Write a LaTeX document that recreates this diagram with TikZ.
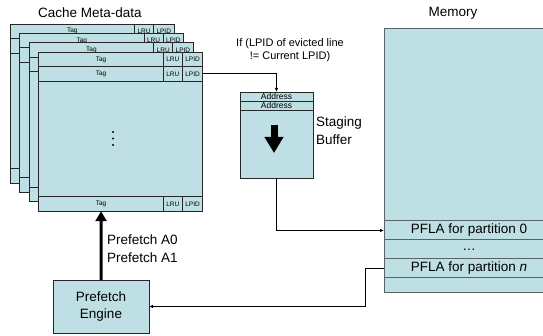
\documentclass[tikz,border=0pt]{standalone}
\usepackage{fontspec}
\setmainfont{Liberation Sans}
\usetikzlibrary{positioning,arrows.meta}
\definecolor{CacheBlue}{RGB}{190,224,228}
\definecolor{EdgeGray}{RGB}{90,98,100}

\begin{document}
\begin{tikzpicture}[x=1pt,y=-1pt]
	\tikzset{
		cell/.style={draw=black!85, line width=0.8pt, fill=CacheBlue, inner sep=0pt, outer sep=0pt,
			anchor=north west, minimum height=14.5pt, font=\fontsize{6.5}{7}\selectfont},
		mrow/.style={draw=EdgeGray, line width=1pt, fill=CacheBlue, inner sep=0pt, outer sep=0pt,
			anchor=north west, minimum width=170pt, font=\fontsize{13.5}{16}\selectfont},
		lbl/.style={font=\fontsize{13.5}{18}\selectfont, align=left, inner sep=0pt},
		conn/.style={draw=black, line width=1pt, -{Latex[length=4pt,width=3.5pt]}}
	}
	\useasboundingbox (0,0) rectangle (543,336);
	
	% stacked meta-data arrays, back to front
	\foreach \i in {0,...,3}{
		\begin{scope}[shift={(9.6*\i,9.4*\i)}]
			\node[cell, minimum width=164pt, minimum height=159pt] (card\i) at (10,24) {};
			\node[cell, minimum width=124.5pt] (tagA\i) at (10,24) {Tag};
			\node[cell, minimum width=19pt] (lruA\i) at (tagA\i.north east) {LRU};
			\node[cell, minimum width=20.5pt] (lpidA\i) at (lruA\i.north east) {LPID};
			\node[cell, minimum width=124.5pt] (tagB\i) at (tagA\i.south west) {Tag};
			\node[cell, minimum width=19pt] (lruB\i) at (tagB\i.north east) {LRU};
			\node[cell, minimum width=20.5pt] (lpidB\i) at (lruB\i.north east) {LPID};
			\node[cell, minimum width=124.5pt] (tagC\i) at (10,168.5) {Tag};
			\node[cell, minimum width=19pt] (lruC\i) at (tagC\i.north east) {LRU};
			\node[cell, minimum width=20.5pt] (lpidC\i) at (lruC\i.north east) {LPID};
		\end{scope}
	}
	% vertical ellipsis
	\foreach \y in {132,138.5,145}
		\fill (113,\y) circle (1.1pt);
	\node[lbl] (cachetitle) at (90,13) {Cache Meta-data};
	
	% staging buffer
	\node[cell, minimum width=73pt, minimum height=9pt, font=\fontsize{8.5}{9}\selectfont] (addr1) at (240,92) {Address};
	\node[cell, minimum width=73pt, minimum height=9pt, font=\fontsize{8.5}{9}\selectfont] (addr2) at (addr1.south west) {Address};
	\node[cell, minimum width=73pt, minimum height=68pt] (stage) at (addr2.south west) {};
	\draw[line width=7pt, -{Triangle[length=16pt,width=18pt]}] (274,125) -- (274,153);
	\node[lbl, anchor=west] (stagelabel) at (316,131) {Staging\\Buffer};
	\node[font=\fontsize{11}{13}\selectfont, align=center, inner sep=0pt] (evictlabel) at (290,50)
		{If (LPID of evicted line\\!= Current LPID)};
	
	% memory
	\node[lbl] (memtitle) at (453,13) {Memory};
	\node[mrow, minimum height=192pt] (membody) at (384,29) {};
	\node[mrow, minimum height=19pt] (pfla0) at (membody.south west) {PFLA for partition 0};
	\node[mrow, minimum height=19pt] (pfladots) at (pfla0.south west) {\dots};
	\node[mrow, minimum height=19pt] (pflan) at (pfladots.south west) {PFLA for partition \textit{n}};
	\node[mrow, minimum height=15pt] (memend) at (pflan.south west) {};
	
	% prefetch engine
	\node[cell, minimum width=96pt, minimum height=53pt, font=\fontsize{13.5}{17}\selectfont, align=center] (engine) at (53,280) {Prefetch\\Engine};
	\draw[line width=3pt, -{Triangle[length=10pt,width=11pt]}] (engine.north) -- (tagC3.south);
	\node[lbl, anchor=west] (pflabel) at (107,249) {Prefetch A0\\Prefetch A1};
	
	\draw[conn] (lpidB3.east) -| (addr1.north);
	\draw[conn] (stage.south) |- (pfla0.west);
	\draw[conn] (pflan.west) -- ++(-19,0) |- (engine.east);
\end{tikzpicture}
\end{document}
